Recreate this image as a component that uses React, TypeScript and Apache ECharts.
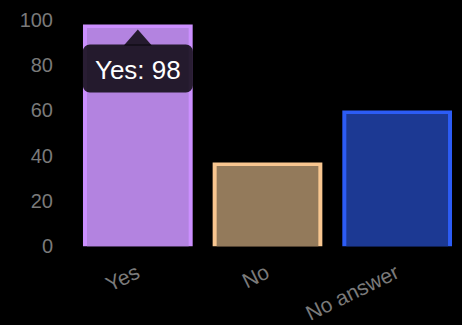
import React, { useEffect, useRef } from "react";
import * as echarts from "echarts";

const categories = ["Yes", "No", "No answer"];
const values = [98, 37, 60];
const yTicks = { min: 0, max: 100, interval: 20 };
const fillColors = ["#b383e0", "#937a5b", "#1c3993"];
const borderColors = ["#cc8fff", "#f8c690", "#2c5cf5"];
const tooltipIndex = 0;

const FONT = 'Arial, "Liberation Sans", Helvetica, sans-serif';

export default function App() {
  const ref = useRef<HTMLDivElement>(null);
  useEffect(() => {
    if (!ref.current) return;
    const chart = echarts.init(ref.current, undefined, { renderer: "svg" });
    const bw = 4;
    const option: any = {
      animation: false,
      backgroundColor: "#000000",
      grid: { left: 73, right: 0, top: 20, bottom: 77, containLabel: false },
      xAxis: {
        type: "category",
        data: categories,
        axisLine: { show: false },
        axisTick: { show: false },
        axisLabel: {
          color: "#7a7a7a",
          fontSize: 21,
          fontFamily: FONT,
          rotate: 26,
          margin: 24,
          interval: 0,
        },
        splitLine: { show: false },
      },
      yAxis: {
        type: "value",
        min: yTicks.min,
        max: yTicks.max,
        interval: yTicks.interval,
        axisLine: { show: false },
        axisTick: { show: false },
        splitLine: { show: false },
        axisLabel: { color: "#7a7a7a", fontSize: 20, fontFamily: FONT, margin: 20 },
      },
      series: [
        {
          type: "custom",
          data: values.map((v, i) => [i, v]),
          renderItem: (params: any, api: any) => {
            const i = api.value(0);
            const v = api.value(1);
            const top = api.coord([i, v]);
            const base = api.coord([i, 0]);
            const w = api.size([1, 0])[0] * 0.846;
            const h = base[1] - top[1];
            return {
              type: "group",
              children: [
                {
                  type: "rect",
                  shape: { x: top[0] - w / 2, y: top[1], width: w, height: h },
                  style: { fill: borderColors[params.dataIndex] },
                },
                {
                  type: "rect",
                  shape: {
                    x: top[0] - w / 2 + bw,
                    y: top[1] + bw * 0.85,
                    width: w - 2 * bw,
                    height: h - bw * 0.85,
                  },
                  style: { fill: fillColors[params.dataIndex] },
                },
              ],
            };
          },
        },
      ],
    };
    chart.setOption(option);
    const p = chart.convertToPixel({ seriesIndex: 0 }, [tooltipIndex, values[tooltipIndex]]) as number[];
    const cx = p[0];
    const tipY = p[1] + 5;
    const boxW = 110;
    const boxTop = tipY + 15;
    const boxH = 48;
    chart.setOption({
      graphic: [
        {
          type: "polygon",
          shape: { points: [[cx, tipY], [cx - 14, boxTop + 1], [cx + 14, boxTop + 1]] },
          style: { fill: "rgba(0,0,0,0.8)" },
          z: 100,
        },
        {
          type: "rect",
          shape: { x: cx - boxW / 2, y: boxTop, width: boxW, height: boxH, r: 7 },
          style: { fill: "rgba(0,0,0,0.8)" },
          z: 100,
        },
        {
          type: "text",
          x: cx,
          y: boxTop + boxH / 2 + 1,
          style: {
            text: `${categories[tooltipIndex]}: ${values[tooltipIndex]}`,
            fill: "#ffffff",
            font: `26px ${FONT}`,
            align: "center",
            verticalAlign: "middle",
          },
          z: 101,
        },
      ],
    });
    return () => chart.dispose();
  }, []);
  return (
    <div
      ref={ref}
      style={{ position: "fixed", left: 0, top: 0, width: 462, height: 325, background: "#000" }}
    />
  );
}
